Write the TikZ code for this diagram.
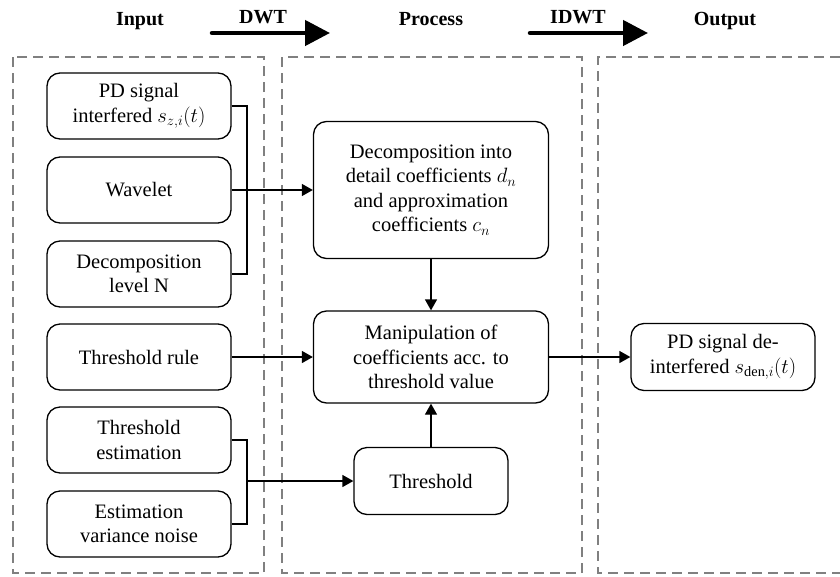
\documentclass[tikz,border=0pt]{standalone}
\usepackage{fontspec}
\setmainfont{Liberation Serif}
\usetikzlibrary{arrows.meta}
\begin{document}
\begin{tikzpicture}[x=1pt,y=-1pt,
  box/.style={draw,line width=1.3pt,rounded corners=13pt,align=center,inner sep=0pt,
    font=\fontsize{20.5}{24.5}\selectfont},
  inbox/.style={box,minimum width=184pt,minimum height=66pt},
  zone/.style={draw=gray,line width=2.7pt,dash pattern=on 10pt off 6pt},
  conn/.style={line width=1.3pt},
  arr/.style={conn,-{Triangle[length=11pt,width=12pt]}},
  bigarr/.style={line width=4.5pt,line cap=round,-{Triangle[length=25pt,width=25pt]}},
  head/.style={anchor=base,font=\fontsize{20}{24}\selectfont\bfseries}]
\useasboundingbox (0,0) rectangle (840,576);
% zones
\draw[zone] (13,57) rectangle (264,573);
\draw[zone] (282,57) rectangle (582,573);
\draw[zone] (840,57) -- (598,57) -- (598,573) -- (840,573);
% headers
\node[head] (hin) at (140,25) {Input};
\node[head] (hdwt) at (263,23) {DWT};
\node[head] (hpro) at (431,25) {Process};
\node[head] (hidwt) at (578,23) {IDWT};
\node[head] (hout) at (725,25) {Output};
\coordinate (d1) at (212,33);
\coordinate (d2) at (330,33);
\coordinate (i1) at (530,33);
\coordinate (i2) at (648,33);
\draw[bigarr] (d1) -- (d2);
\draw[bigarr] (i1) -- (i2);
% input boxes
\node[inbox] (pd) at (139,106) {PD signal\\interfered $s_{z,i}(t)$};
\node[inbox] (wav) at (139,190) {Wavelet};
\node[inbox] (lev) at (139,274) {Decomposition\\level N};
\node[inbox] (tr) at (139,357) {Threshold rule};
\node[inbox] (te) at (139,440) {Threshold\\estimation};
\node[inbox] (evn) at (139,524) {Estimation\\variance noise};
% process boxes
\node[box,minimum width=235pt,minimum height=137pt] (dec) at (431,190)
  {Decomposition into\\detail coefficients $d_n$\\and approximation\\coefficients $c_n$};
\node[box,minimum width=235pt,minimum height=92pt] (man) at (431,357)
  {Manipulation of\\coefficients acc. to\\threshold value};
\node[box,minimum width=154pt,minimum height=67pt] (thr) at (431,481) {Threshold};
% output
\node[box,minimum width=184pt,minimum height=67pt] (out) at (723,357)
  {PD signal de-\\interfered $s_{\mathrm{den},i}(t)$};
% connectors
\coordinate (jx) at (247,0);
\draw[conn] (pd.east) -- (pd.east -| jx) -- (lev.east -| jx) -- (lev.east);
\draw[arr] (wav.east) -- (dec.west);
\draw[arr] (tr.east) -- (man.west);
\draw[conn] (te.east) -- (te.east -| jx) -- (evn.east -| jx) -- (evn.east);
\draw[arr] (jx |- thr.west) -- (thr.west);
\draw[arr] (dec.south) -- (man.north);
\draw[arr] (thr.north) -- (man.south);
\draw[arr] (man.east) -- (out.west);
\end{tikzpicture}
\end{document}
